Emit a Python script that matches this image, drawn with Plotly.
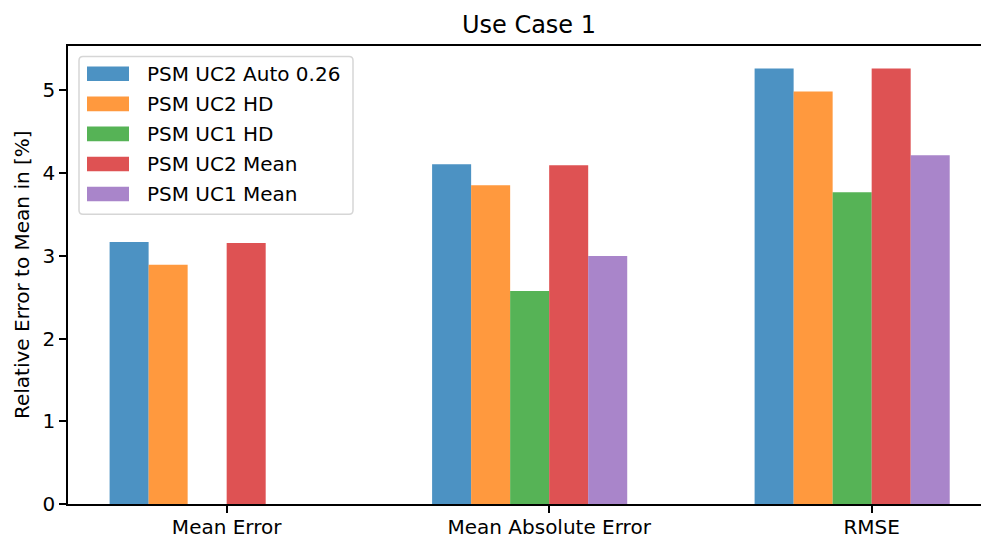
import plotly.graph_objects as go

# Error metrics (relative error to mean, in %) for each PSM variant
categories = ["Mean Error", "Mean Absolute Error", "RMSE"]
series_names = [
    "PSM UC2 Auto 0.26",
    "PSM UC2 HD",
    "PSM UC1 HD",
    "PSM UC2 Mean",
    "PSM UC1 Mean",
]
uc2_auto = [3.166, 4.107, 5.265]
uc2_hd = [2.893, 3.854, 4.988]
uc1_hd = [None, 2.575, 3.770]
uc2_mean = [3.154, 4.095, 5.265]
uc1_mean = [None, 2.998, 4.216]
y_ticks = [0, 1, 2, 3, 4, 5]

series_values = [uc2_auto, uc2_hd, uc1_hd, uc2_mean, uc1_mean]
colors = [
    "rgba(31,119,180,0.8)",
    "rgba(255,127,14,0.8)",
    "rgba(44,160,44,0.8)",
    "rgba(214,39,40,0.8)",
    "rgba(148,103,189,0.8)",
]

FONT = "DejaVu Sans"
W, H = 981, 538
ML, MR, MT, MB = 68, 0, 45.5, 33.5
PW, PH = W - ML - MR, H - MT - MB
bar_w = 0.121
x_pos = list(range(len(categories)))

fig = go.Figure()
for i, (name, vals, col) in enumerate(zip(series_names, series_values, colors)):
    fig.add_trace(go.Bar(
        x=x_pos, y=vals, name=name,
        width=bar_w, offset=(i - 3) * bar_w,
        marker=dict(color=col, line=dict(width=0)),
        showlegend=False,
    ))


def px_x(px):
    return (px - ML) / PW


def px_y(py):
    return (H - MB - py) / PH


# Legend frame (rounded box) in the upper-left corner
bx0, bx1, by0, by1, r = 79, 353, 56, 214, 4
pts = (
    f"M {px_x(bx0 + r)},{px_y(by0)} L {px_x(bx1 - r)},{px_y(by0)} "
    f"Q {px_x(bx1)},{px_y(by0)} {px_x(bx1)},{px_y(by0 + r)} "
    f"L {px_x(bx1)},{px_y(by1 - r)} Q {px_x(bx1)},{px_y(by1)} {px_x(bx1 - r)},{px_y(by1)} "
    f"L {px_x(bx0 + r)},{px_y(by1)} Q {px_x(bx0)},{px_y(by1)} {px_x(bx0)},{px_y(by1 - r)} "
    f"L {px_x(bx0)},{px_y(by0 + r)} Q {px_x(bx0)},{px_y(by0)} {px_x(bx0 + r)},{px_y(by0)} Z"
)
shapes = [dict(type="path", xref="paper", yref="paper", path=pts,
               fillcolor="rgba(255,255,255,0.8)", line=dict(color="#d6d6d6", width=1.5))]
annotations = []
row0, pitch = 73.4, 30.1
for k, (name, col) in enumerate(zip(series_names, colors)):
    cy = row0 + k * pitch
    shapes.append(dict(type="rect", xref="paper", yref="paper",
                       x0=px_x(87), x1=px_x(129), y0=px_y(cy - 7.3), y1=px_y(cy + 7.3),
                       fillcolor=col, line=dict(width=0)))
    annotations.append(dict(xref="paper", yref="paper", x=px_x(145), y=px_y(cy + 0.5),
                            text=name, showarrow=False, xanchor="left", yanchor="middle",
                            font=dict(family=FONT, size=20, color="black")))

annotations.append(dict(xref="paper", yref="paper", x=px_x(22), y=0.5,
                        text="Relative Error to Mean in [%]", textangle=-90,
                        showarrow=False, xanchor="center", yanchor="middle",
                        font=dict(family=FONT, size=20, color="black")))

fig.update_layout(
    width=W, height=H,
    margin=dict(l=ML, r=MR, t=MT, b=MB, pad=0, autoexpand=False),
    paper_bgcolor="white", plot_bgcolor="white",
    barmode="overlay",
    title=dict(text="Use Case 1", x=(529 / W), xanchor="center",
               y=1 - 25 / H, yanchor="middle",
               font=dict(family=FONT, size=24, color="black")),
    font=dict(family=FONT, size=20, color="black"),
    shapes=shapes, annotations=annotations,
    xaxis=dict(range=[-0.492, -0.492 + PW / 322.5], tickmode="array",
               tickvals=x_pos, ticktext=categories, automargin=False,
               showline=True, linecolor="black", linewidth=1.6, mirror=True,
               ticks="outside", ticklen=7, tickwidth=1.6, tickcolor="black",
               ticklabelstandoff=-3,
               showgrid=False, zeroline=False,
               tickfont=dict(family=FONT, size=20, color="black")),
    yaxis=dict(range=[0, PH / 82.9], tickmode="array", tickvals=y_ticks,
               automargin=False,
               showline=True, linecolor="black", linewidth=1.6, mirror=False,
               ticks="outside", ticklen=7, tickwidth=1.6, tickcolor="black",
               showgrid=False, zeroline=False,
               tickfont=dict(family=FONT, size=20, color="black")),
)

fig.write_html("out.html")
